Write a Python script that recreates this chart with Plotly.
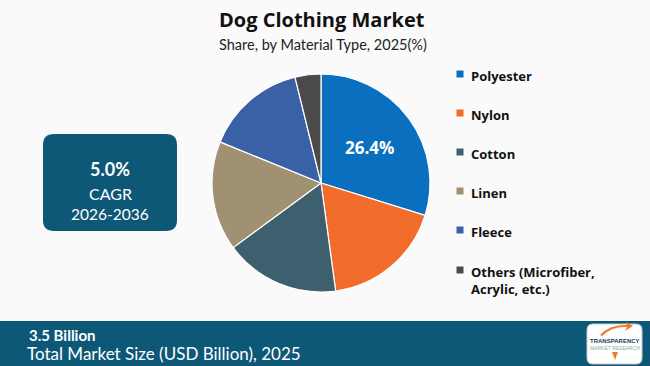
import plotly.graph_objects as go

# Data
categories = ["Polyester", "Nylon", "Cotton", "Linen", "Fleece", "Others (Microfiber,<br>Acrylic, etc.)"]
values = [26.4, 16.0, 15.1, 14.4, 13.3, 3.4]
colors = ["#0b6fc0", "#f26c2b", "#3e5f6e", "#a09172", "#3a60a6", "#4a4a4a"]
shown_label = [True, False, False, False, False, False]

title = "Dog Clothing Market"
subtitle = "Share, by Material Type, 2025(%)"
cagr_value = "5.0%"
cagr_period = "2026-2036"
market_size = "3.5 Billion"
market_caption = "Total Market Size (USD Billion), 2025"

W, H = 650, 366
BG = "#fafafa"
BAND = "#0d5877"

def py(p):
    return 1 - p / H

def px(p):
    return p / W

fig = go.Figure()
fig.add_trace(go.Pie(
    labels=categories,
    values=values,
    sort=False,
    direction="clockwise",
    rotation=0,
    marker=dict(colors=colors, line=dict(color="white", width=1.2)),
    texttemplate=["%{value:.1f}%" if s else "" for s in shown_label],
    textposition="inside",
    insidetextorientation="horizontal",
    textfont=dict(family="Open Sans", size=17, color="white", weight="bold"),
    showlegend=False,
    hoverinfo="label+value",
    domain=dict(x=[px(321 - 109), px(321 + 109)], y=[py(292), py(74)]),
))

shapes = []
annotations = []

# Title
annotations.append(dict(text="<b>" + title + "</b>", x=px(322), y=py(20), xref="paper", yref="paper",
                        showarrow=False, font=dict(family="Open Sans", size=20, color="#111111"),
                        xanchor="center", yanchor="middle"))
annotations.append(dict(text=subtitle, x=px(323), y=py(44), xref="paper", yref="paper",
                        showarrow=False, font=dict(family="Lato", size=14.5, color="#222222"),
                        xanchor="center", yanchor="middle"))

# Legend (manual)
legend_y = [74, 113, 152, 191, 230, 270]
for cat, col, ly in zip(categories, colors, legend_y):
    shapes.append(dict(type="rect", xref="paper", yref="paper",
                       x0=px(456.5), x1=px(463.5), y0=py(ly + 3.5), y1=py(ly - 3.5),
                       fillcolor=col, line=dict(width=0)))
    annotations.append(dict(text="<b>" + cat + "</b>", x=px(469), y=py(ly - 9), xref="paper", yref="paper",
                            showarrow=False, align="left", xanchor="left", yanchor="top",
                            font=dict(family="Open Sans", size=13, color="#111111")))

# CAGR box
def rounded_rect(x0, y0, x1, y1, r):
    return (f"M {x0+r},{y0} L {x1-r},{y0} Q {x1},{y0} {x1},{y0+r} L {x1},{y1-r} "
            f"Q {x1},{y1} {x1-r},{y1} L {x0+r},{y1} Q {x0},{y1} {x0},{y1-r} L {x0},{y0+r} "
            f"Q {x0},{y0} {x0+r},{y0} Z")

shapes.append(dict(type="path", xref="x", yref="y", path=rounded_rect(43, 134, 177, 231, 11),
                   fillcolor=BAND, line=dict(width=0), layer="below"))
annotations.append(dict(text="<b>" + cagr_value + "</b>", x=110, y=169, xref="x", yref="y", showarrow=False,
                        font=dict(family="Lato", size=18, color="white")))
annotations.append(dict(text="CAGR", x=110, y=193, xref="x", yref="y", showarrow=False,
                        font=dict(family="Lato", size=16, color="white")))
annotations.append(dict(text=cagr_period, x=110, y=214, xref="x", yref="y", showarrow=False,
                        font=dict(family="Lato", size=15.5, color="white")))

# Bottom band
shapes.append(dict(type="rect", xref="x", yref="y", x0=0, x1=650, y0=321, y1=366,
                   fillcolor=BAND, line=dict(width=0), layer="below"))
annotations.append(dict(text="<b>" + market_size + "</b>", x=27, y=335, xref="x", yref="y", showarrow=False,
                        xanchor="left", font=dict(family="Lato", size=15, color="white")))
annotations.append(dict(text=market_caption, x=25, y=353, xref="x", yref="y", showarrow=False,
                        xanchor="left", font=dict(family="Lato", size=17, color="white")))

# Logo
shapes.append(dict(type="path", xref="x", yref="y", path=rounded_rect(587, 324, 642, 364, 6),
                   fillcolor="white", line=dict(color="#cccccc", width=1)))
shapes.append(dict(type="path", xref="x", yref="y",
                   path="M 602,336 Q 612,326 627,327 L 625,331 L 633,326 L 626,322 L 627,325 Q 610,324 600,335 Z",
                   fillcolor="#f07a2a", line=dict(width=0)))
annotations.append(dict(text="<b>TRANSPARENCY</b>", x=614.5, y=341, xref="x", yref="y", showarrow=False,
                        font=dict(family="Liberation Sans", size=6, color="#1d3c5a")))
annotations.append(dict(text="MARKET RESEARCH", x=614.5, y=348, xref="x", yref="y", showarrow=False,
                        font=dict(family="Liberation Sans", size=5, color="#7fb0a8")))
shapes.append(dict(type="path", xref="x", yref="y",
                   path="M 612,352 L 618,352 L 615,360 Z",
                   fillcolor="#f07a2a", line=dict(width=0)))

fig.update_layout(
    width=W, height=H,
    margin=dict(l=0, r=0, t=0, b=0),
    paper_bgcolor=BG, plot_bgcolor=BG,
    xaxis=dict(range=[0, W], visible=False, fixedrange=True),
    yaxis=dict(range=[H, 0], visible=False, fixedrange=True),
    shapes=shapes,
    annotations=annotations,
)

fig.write_html("out.html", config=dict(displayModeBar=False),
               post_script="document.body.style.margin='0';document.body.style.overflow='hidden';")
